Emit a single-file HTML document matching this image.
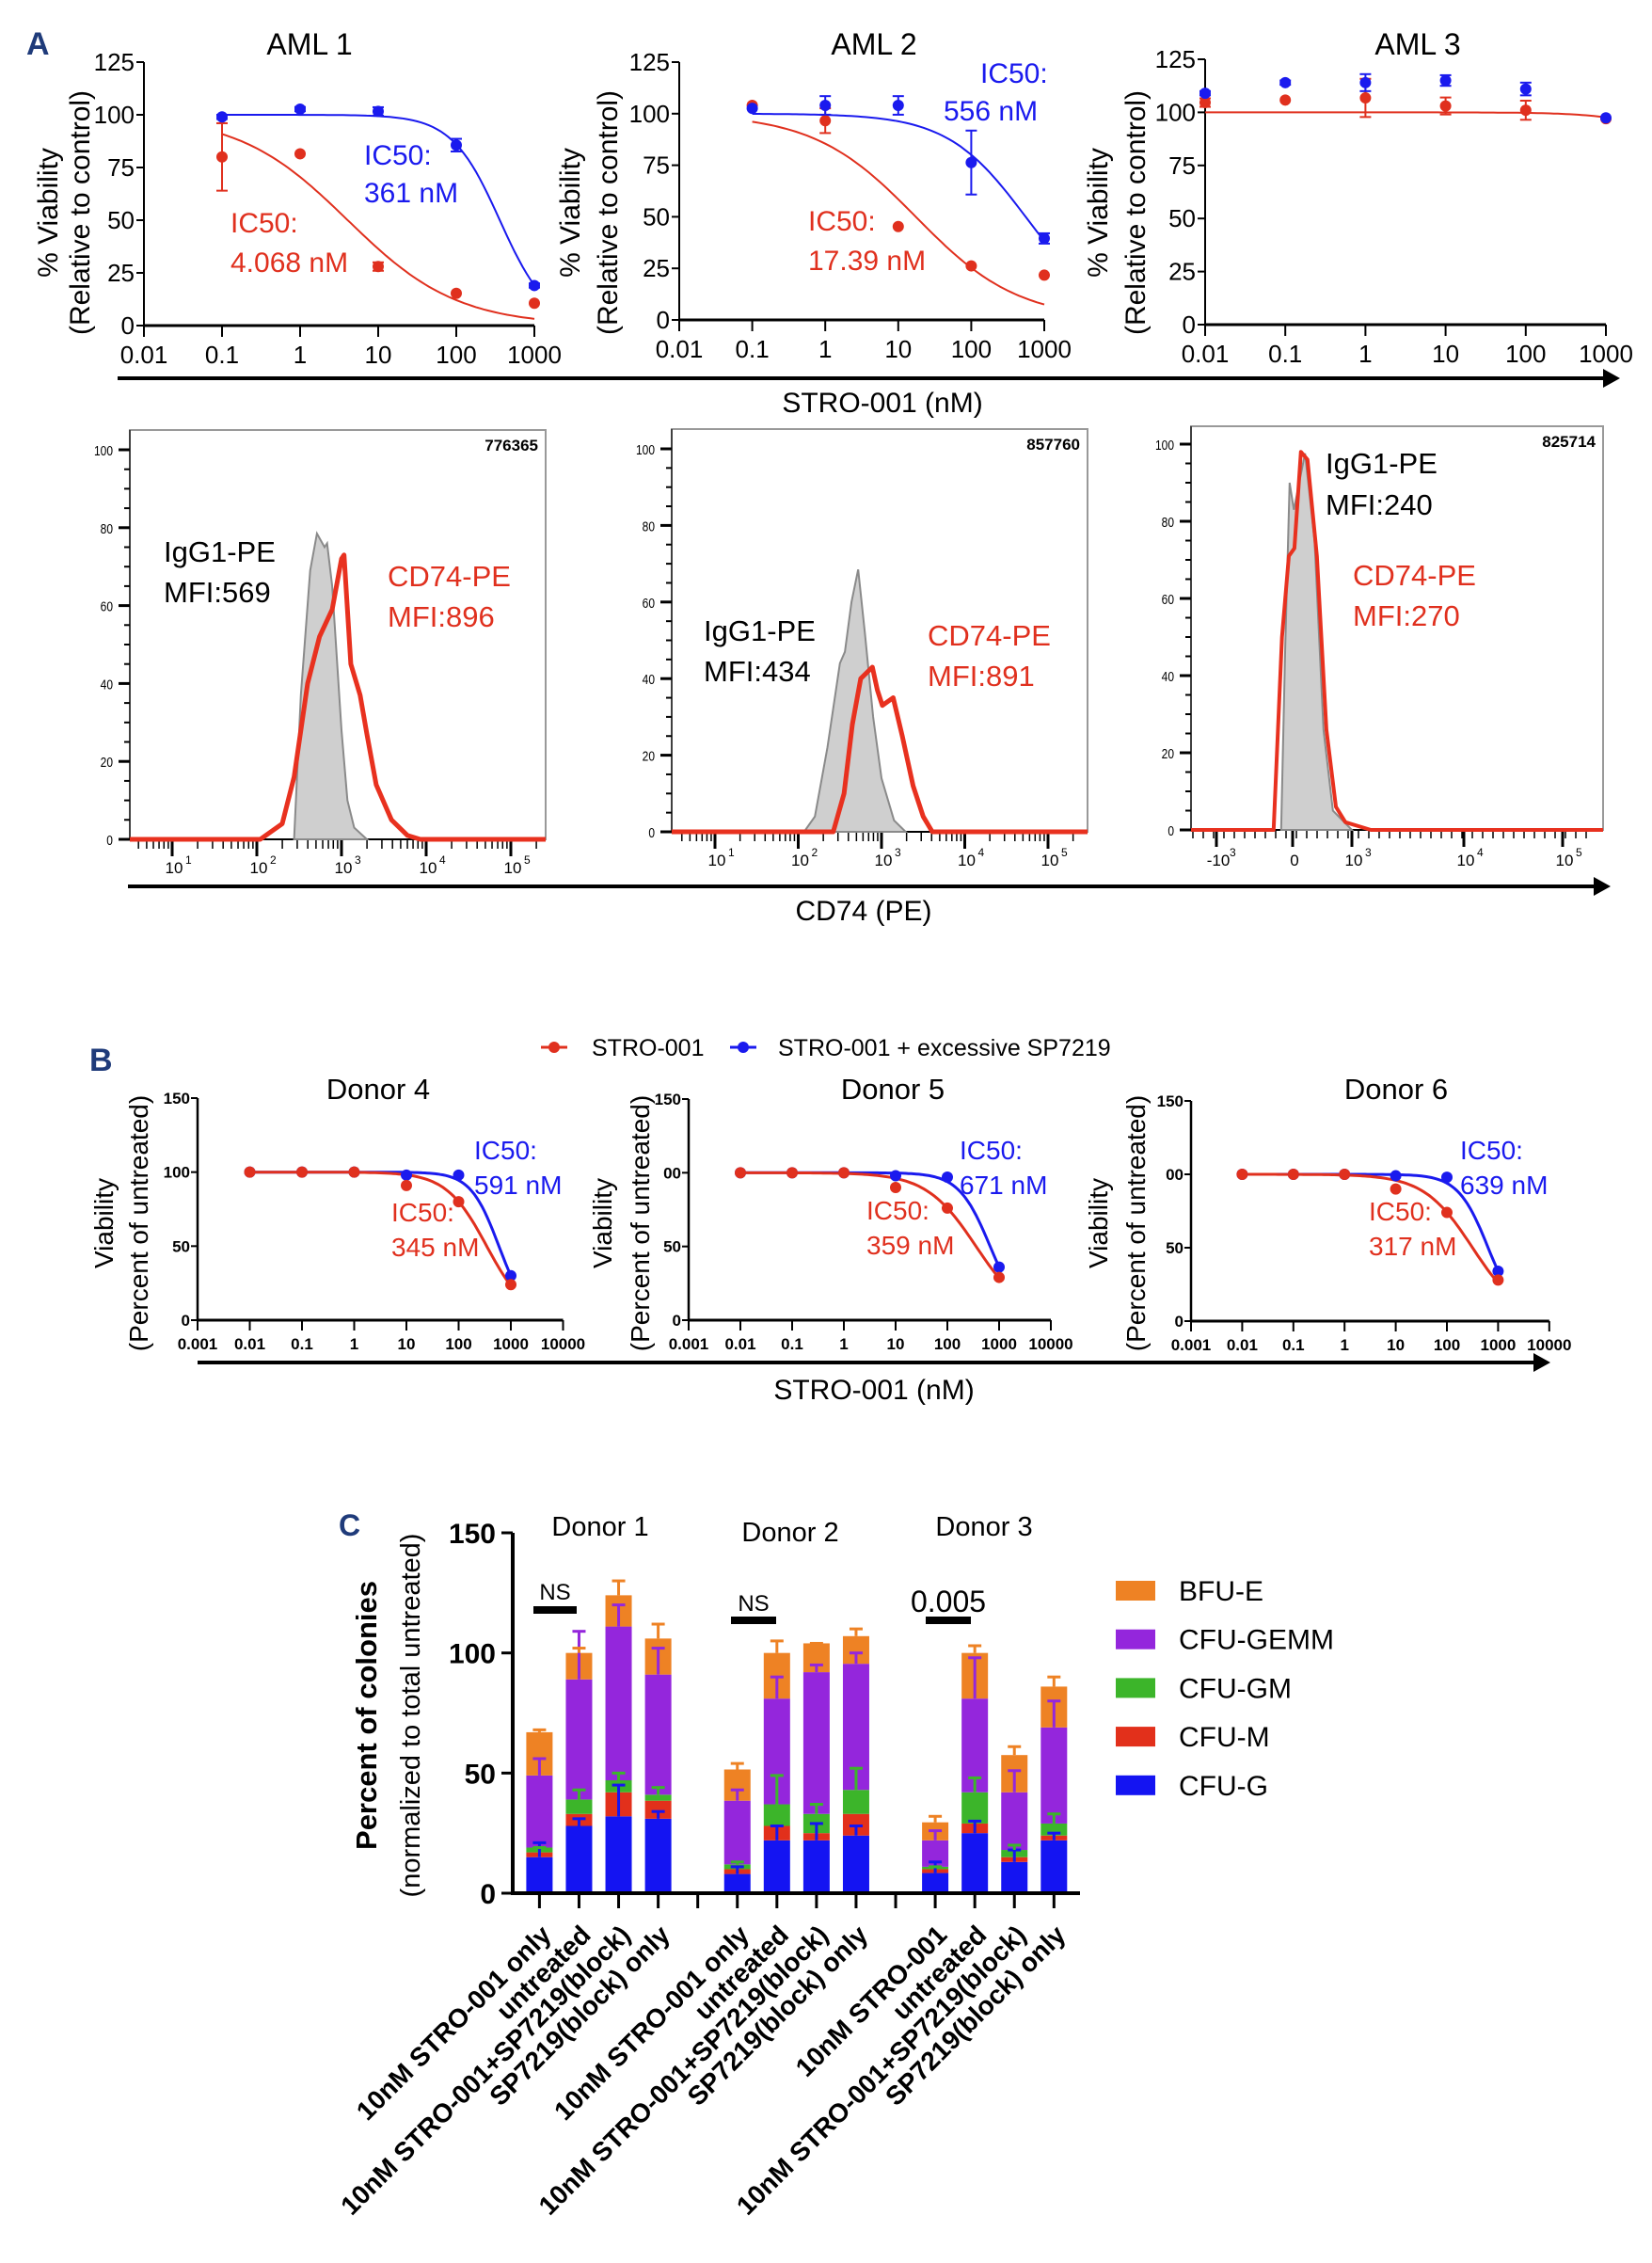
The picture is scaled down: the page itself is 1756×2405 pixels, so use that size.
<!DOCTYPE html>
<html><head><meta charset="utf-8"><title>STRO-001 figure</title>
<style>
html,body{margin:0;padding:0;background:#fff;}
svg{display:block;font-family:"Liberation Sans",sans-serif;}
</style></head>
<body>
<svg id="fig" xmlns="http://www.w3.org/2000/svg" width="1756" height="2405" viewBox="0 0 1756 2405"></svg>
<script>
// ---------- Panel A data ----------
const aml1Conc=[0.1,1,10,100,1000];
const aml1Blue=[99,102.7,101.6,85.6,19];
const aml1BlueErr=[1,1,2,3,1];
const aml1Red=[80,81.5,28,15.3,10.6];
const aml1RedErr=[16,0,2,0,0];
const aml2Conc=[0.1,1,10,100,1000];
const aml2Blue=[102.6,104,104,76.3,39.5];
const aml2BlueErr=[0,4.5,4.5,15.5,2.5];
const aml2Red=[104,96.6,45.3,26.2,21.7];
const aml2RedErr=[0,6,0,0,0];
const aml3Conc=[0.01,0.1,1,10,100,1000];
const aml3Blue=[109,114,114,115,111,97.4];
const aml3BlueErr=[1,1,4,2.5,3,0];
const aml3Red=[104.6,105.8,106.8,103,101,97];
const aml3RedErr=[2,0,9,4,4.5,0];
const amlIC50Red=[4.068,17.39,40000];
const amlHillRed=[0.62,0.62,1];
const amlIC50Blue=[361,556];
const amlHillBlue=[1.41,0.81];
const amlXTicks=["0.01","0.1","1","10","100","1000"];
const amlYTicks=[0,25,50,75,100,125];
// ---------- Histogram data (x in decades / axis index, y in % of max) ----------
const h1Gray=[[2.44,0],[2.52,37],[2.63,69],[2.71,78.5],[2.8,75],[2.83,76],[2.89,65],[3.0,28],[3.07,10],[3.15,3],[3.3,0]];
const h1Red=[[2.04,0],[2.3,4],[2.44,16],[2.6,40],[2.74,52],[2.89,59],[3.0,72],[3.03,73],[3.11,45],[3.22,37],[3.3,27],[3.41,14],[3.59,5],[3.78,1],[3.93,0]];
const h2Gray=[[2.07,0],[2.2,4],[2.35,22],[2.5,44],[2.56,47],[2.64,60],[2.72,68.5],[2.8,52],[2.9,30],[3.0,14],[3.15,3],[3.29,0]];
const h2Red=[[2.42,0],[2.55,10],[2.65,28],[2.75,40],[2.89,43],[2.95,37],[3.01,33],[3.14,35],[3.25,25],[3.38,12],[3.5,4],[3.61,0]];
const h3Gray=[[0.85,0],[0.9,45],[0.96,90],[1.02,83],[1.21,97.6],[1.37,75],[1.52,26],[1.68,5],[2.0,0]];
const h3Red=[[0.75,0],[0.86,50],[0.95,71],[1.03,73],[1.14,98],[1.25,96],[1.41,71],[1.57,26],[1.73,6],[1.89,2],[2.17,0]];
const histYTicks=[0,20,40,60,80,100];
const histCounts=["776365","857760","825714"];
// ---------- Panel B data ----------
const bConc=[0.01,0.1,1,10,100,1000];
const d4Red=[100,100,100,91,80,24];
const d4Blue=[100,100,100,98,98,30];
const d5Red=[100,100,100,90,76,29];
const d5Blue=[100,100,100,98,97,36];
const d6Red=[100,100,100,90,74,28];
const d6Blue=[100,100,100,99,98,34];
const bIC50Red=[345,359,317];
const bHillRed=[1.12,0.9,0.91];
const bIC50Blue=[591,671,639];
const bHillBlue=[1.6,1.44,1.48];
const bXTicks=["0.001","0.01","0.1","1","10","100","1000","10000"];
const bYTicks=[0,50,100,150];
// ---------- Panel C data ----------
const cCategories=["10nM STRO-001 only","untreated","10nM STRO-001+SP7219(block)","SP7219(block) only","10nM STRO-001 only","untreated","10nM STRO-001+SP7219(block)","SP7219(block) only","10nM STRO-001","untreated","10nM STRO-001+SP7219(block)","SP7219(block) only"];
const cfuG=[15,28,32,31,8,22,22,24,8.4,25,13,22];
const cfuM=[2,5,10,7.5,2,6,3,9,1.6,4,2,2];
const cfuGM=[2,6,5,2.5,2,9,8,10,1,13,3,5];
const cfuGEMM=[30,50,64,50,26.5,44,59,52.5,11,39,24,40];
const bfuE=[18,11,13,15,13,19,12,11.5,7.5,19,15.5,17];
const cfuGTop=[21,31,45,34,11,28,29,28,13,30,18,25];
const cfuGMTop=[19,43,50,44,13,49,37,52,11,48,20,33];
const cfuGEMMTop=[56,109,120,102,43,90,95,100,26,98,51,80];
const bfuETop=[68,102,130,112,54,105,104,110,32,103,61,90];
const cYTicks=[0,50,100,150];

// ---------- helpers ----------
const NS='http://www.w3.org/2000/svg';
const svg=document.getElementById('fig');
function mk(tag,attrs,parent){const e=document.createElementNS(NS,tag);for(const k in attrs)e.setAttribute(k,attrs[k]);(parent||svg).appendChild(e);return e;}
function txt(x,y,s,attrs,parent){const e=mk('text',Object.assign({x:x,y:y},attrs||{}),parent);e.textContent=s;return e;}
function hill(c,ic,h){return 100/(1+Math.pow(c/ic,h));}
const RED='#e0301e',BLUE='#1a1aee';

// ---------- Panel letters ----------
let el;
el=txt(28,58,'A',{'font-size':34,'font-weight':'bold',fill:'#1f3b7a'});


el=txt(95,1138,'B',{'font-size':34,'font-weight':'bold',fill:'#1f3b7a'});


el=txt(360,1632,'C',{'font-size':32,'font-weight':'bold',fill:'#1f3b7a'});



// ---------- Panel A ----------
const amlCharts=[
 {title:'AML 1',x0:153,dec:83,y0:346,yTop:66,tx:329,lx:[51,85],conc:aml1Conc,blue:aml1Blue,be:aml1BlueErr,red:aml1Red,re:aml1RedErr,
  blueTxt:[387,175,215],redTxt:[245,247,289]},
 {title:'AML 2',x0:722,dec:77.6,y0:340,yTop:66,tx:929,lx:[606,646],conc:aml2Conc,blue:aml2Blue,be:aml2BlueErr,red:aml2Red,re:aml2RedErr,
  blueTxt:[1042,88,128],redTxt:[859,245,287]},
 {title:'AML 3',x0:1281,dec:85.2,y0:345,yTop:63,tx:1507,lx:[1167,1207],conc:aml3Conc,blue:aml3Blue,be:aml3BlueErr,red:aml3Red,re:aml3RedErr}
];
amlCharts.forEach((c,i)=>{
 const g=mk('g',{});
 
 
 const X=v=>c.x0+(Math.log10(v)+2)*c.dec;
 const Y=v=>c.y0-(v/125)*(c.y0-c.yTop);
 el=txt(c.tx,58,c.title,{'font-size':32,'text-anchor':'middle'},g);
 
 
 mk('line',{x1:c.x0,y1:c.y0,x2:X(1000),y2:c.y0,stroke:'#000','stroke-width':3},g);
 mk('line',{x1:c.x0,y1:c.y0,x2:c.x0,y2:c.yTop,stroke:'#000','stroke-width':2},g);
 amlXTicks.forEach((t,k)=>{const x=X(Math.pow(10,k-2));
  mk('line',{x1:x,y1:c.y0,x2:x,y2:c.y0+12,stroke:'#000','stroke-width':2},g);
  el=txt(x,c.y0+40,t,{'font-size':26,'text-anchor':'middle'},g);
  
  });
 amlYTicks.forEach(t=>{const y=Y(t);
  mk('line',{x1:c.x0-8,y1:y,x2:c.x0,y2:y,stroke:'#000','stroke-width':2},g);
  el=txt(c.x0-10,y+9,String(t),{'font-size':26,'text-anchor':'end'},g);
  
  });
 el=txt(0,0,'% Viability',{'font-size':30,'text-anchor':'middle',transform:`translate(${c.lx[0]+10},226) rotate(-90)`},g);
 
 
 el=txt(0,0,'(Relative to control)',{'font-size':30,'text-anchor':'middle',transform:`translate(${c.lx[1]+10},226) rotate(-90)`},g);
 
 
 let startL=i<2?-1:-2;
 let pts=[];for(let l=startL;l<=3.0001;l+=0.05){const cc=Math.pow(10,l);pts.push(X(cc).toFixed(1)+','+Y(hill(cc,amlIC50Red[i],amlHillRed[i])).toFixed(1));}
 el=mk('polyline',{points:pts.join(' '),fill:'none',stroke:RED,'stroke-width':2},g);
 
 
 if(i<2){pts=[];for(let l=-1;l<=3.0001;l+=0.05){const cc=Math.pow(10,l);pts.push(X(cc).toFixed(1)+','+Y(hill(cc,amlIC50Blue[i],amlHillBlue[i])).toFixed(1));}
  el=mk('polyline',{points:pts.join(' '),fill:'none',stroke:BLUE,'stroke-width':2},g);
  
  }
 [[c.red,c.re,RED,'red'],[c.blue,c.be,BLUE,'blue']].forEach(([vals,errs,col,nm])=>{
  vals.forEach((v,k)=>{const x=X(c.conc[k]);
   if(errs[k]>0){mk('line',{x1:x,y1:Y(v-errs[k]),x2:x,y2:Y(v+errs[k]),stroke:col,'stroke-width':2},g);
    mk('line',{x1:x-6,y1:Y(v-errs[k]),x2:x+6,y2:Y(v-errs[k]),stroke:col,'stroke-width':2},g);
    mk('line',{x1:x-6,y1:Y(v+errs[k]),x2:x+6,y2:Y(v+errs[k]),stroke:col,'stroke-width':2},g);}
   el=mk('circle',{cx:x,cy:Y(v),r:6,fill:col},g);
   
   });});
 if(c.blueTxt){
  el=txt(c.blueTxt[0],c.blueTxt[1],'IC50:',{'font-size':30,fill:BLUE},g);
  
  
  txt(c.blueTxt[0]-(i==1?39:0),c.blueTxt[2],i==0?'361 nM':'556 nM',{'font-size':30,fill:BLUE},g);
  el=txt(c.redTxt[0],c.redTxt[1],'IC50:',{'font-size':30,fill:RED},g);
  
  
  txt(c.redTxt[0],c.redTxt[2],i==0?'4.068 nM':'17.39 nM',{'font-size':30,fill:RED},g);
 }
});
function arrow(x1,x2,y,name){const g=mk('g',{});
 
 
 mk('line',{x1:x1,y1:y,x2:x2-14,y2:y,stroke:'#000','stroke-width':4},g);
 mk('polygon',{points:`${x2},${y} ${x2-18},${y-10} ${x2-18},${y+10}`,fill:'#000'},g);}
arrow(125,1722,402,'panel-a-x-arrow');
el=txt(938,438,'STRO-001 (nM)',{'font-size':30,'text-anchor':'middle'});



// ---------- Histograms ----------
const hists=[
 {l:138,r:580,top:457,base:892,y100:478,gray:h1Gray,red:h1Red,type:'log',x1:183,dec:90,
  txt:[[174,597,'IgG1-PE','#000'],[174,640,'MFI:569','#000'],[412,623,'CD74-PE',RED],[412,666,'MFI:896',RED]]},
 {l:714,r:1156,top:456,base:884,y100:477,gray:h2Gray,red:h2Red,type:'log',x1:760,dec:88.5,
  txt:[[748,681,'IgG1-PE','#000'],[748,724,'MFI:434','#000'],[986,686,'CD74-PE',RED],[986,729,'MFI:891',RED]]},
 {l:1266,r:1704,top:453,base:882,y100:472,gray:h3Gray,red:h3Red,type:'idx',pos:[1293,1374,1437,1556,1661],
  txt:[[1409,503,'IgG1-PE','#000'],[1409,547,'MFI:240','#000'],[1438,622,'CD74-PE',RED],[1438,665,'MFI:270',RED]]}
];
hists.forEach((h,i)=>{
 const g=mk('g',{});
 
 
 const X=h.type==='log'?(d=>h.x1+(d-1)*h.dec):(t=>{const k=Math.max(0,Math.min(3,Math.floor(t)));return h.pos[k]+(t-k)*(h.pos[k+1]-h.pos[k]);});
 const Y=v=>h.base-v/100*(h.base-h.y100);
 mk('rect',{x:h.l,y:h.top,width:h.r-h.l,height:h.base-h.top,fill:'none',stroke:'#999','stroke-width':2},g);
 mk('line',{x1:h.l,y1:h.top,x2:h.l,y2:h.base,stroke:'#222','stroke-width':1.5},g);
 histYTicks.forEach(t=>{const y=Y(t);
  mk('line',{x1:h.l-12,y1:y,x2:h.l,y2:y,stroke:'#000','stroke-width':3},g);
  el=txt(h.l-18,y+6,String(t),{'font-size':15,'text-anchor':'end','transform':`scale(0.8,1)`,'transform-origin':`${h.l-18} ${y}`},g);
  
  });
 for(let t=5;t<100;t+=5){if(t%20)mk('line',{x1:h.l-6,y1:Y(t),x2:h.l,y2:Y(t),stroke:'#000','stroke-width':2},g);}
 mk('line',{x1:h.l,y1:h.base,x2:h.r,y2:h.base,stroke:'#000','stroke-width':2},g);
 if(h.type==='log'){
  for(let d=0;d<=5;d++){for(let k=1;k<=9;k++){const x=X(d+Math.log10(k));if(x<h.l||x>h.r)continue;
   mk('line',{x1:x,y1:h.base,x2:x,y2:h.base+(k==1?18:10),stroke:'#000','stroke-width':k==1?3:1.5},g);}}
  for(let d=1;d<=5;d++){const x=X(d);
   el=txt(x+2,h.base+36,'10',{'font-size':17,'text-anchor':'middle'},g);
   
   
   txt(x+14,h.base+26,String(d),{'font-size':12},g);}
 }else{
  const labs=['-10','0','10','10','10'],sups=['3','','3','4','5'];
  h.pos.forEach((p,k)=>{mk('line',{x1:p,y1:h.base,x2:p,y2:h.base+18,stroke:'#000','stroke-width':3},g);
   el=txt(p+2,h.base+38,labs[k],{'font-size':17,'text-anchor':'middle'},g);
   
   
   if(sups[k])txt(p+14,h.base+28,sups[k],{'font-size':12},g);});
  for(let x=h.pos[0]-25;x<h.r-10;x+=11){mk('line',{x1:x,y1:h.base,x2:x,y2:h.base+9,stroke:'#000','stroke-width':1.5},g);}
 }
 const pg=h.gray.map(p=>X(p[0]).toFixed(1)+','+Y(p[1]).toFixed(1));
 el=mk('polygon',{points:pg.join(' '),fill:'#cfcfcf',stroke:'#8a8a8a','stroke-width':2},g);
 
 
 const pr=[h.l+','+Y(0)].concat(h.red.map(p=>X(p[0]).toFixed(1)+','+Y(p[1]).toFixed(1))).concat([h.r+','+Y(0)]);
 el=mk('polyline',{points:pr.join(' '),fill:'none',stroke:'#e8311f','stroke-width':h.type==='log'?5:4,'stroke-linejoin':'round'},g);
 
 
 el=txt(h.r-8,h.top+22,histCounts[i],{'font-size':17,'font-weight':'bold','text-anchor':'end'},g);
 
 
 h.txt.forEach(t=>{el=txt(t[0],t[1],t[2],{'font-size':31,fill:t[3]},g);
  
  });
});
arrow(136,1712,942,'panel-a-cd74-arrow');
el=txt(918,978,'CD74 (PE)',{'font-size':30,'text-anchor':'middle'});



// ---------- Panel B ----------
const lg=mk('g',{});


[[589,629,'STRO-001',RED],[790,827,'STRO-001 + excessive SP7219',BLUE]].forEach(a=>{
 mk('line',{x1:a[0]-14,y1:1113,x2:a[0]+14,y2:1113,stroke:a[3],'stroke-width':3},lg);
 mk('circle',{cx:a[0],cy:1113,r:6,fill:a[3]},lg);
 el=txt(a[1],1122,a[2],{'font-size':25},lg);
 
 });
const donors=[
 {t:'Donor 4',x0:210,dec:55.5,y0:1403,y150:1167,tx:402,lx:[110,147],red:d4Red,blue:d4Blue,ticks:['0','50','100','150'],
  bt:[504,1232,1269,'591 nM'],rt:[416,1298,1335,'345 nM']},
 {t:'Donor 5',x0:732,dec:55,y0:1403,y150:1168,tx:949,lx:[640,680],red:d5Red,blue:d5Blue,ticks:['0','50','00','150'],
  bt:[1020,1232,1269,'671 nM'],rt:[921,1296,1333,'359 nM']},
 {t:'Donor 6',x0:1266,dec:54.4,y0:1404,y150:1170,tx:1484,lx:[1167,1207],red:d6Red,blue:d6Blue,ticks:['0','50','00','150'],
  bt:[1552,1232,1269,'639 nM'],rt:[1455,1297,1334,'317 nM']}
];
donors.forEach((d,i)=>{
 const g=mk('g',{});
 
 
 const X=v=>d.x0+(Math.log10(v)+3)*d.dec;
 const Y=v=>d.y0-v/150*(d.y0-d.y150);
 el=txt(d.tx,1168,d.t,{'font-size':31,'text-anchor':'middle'},g);
 
 
 mk('line',{x1:d.x0,y1:d.y0,x2:X(10000),y2:d.y0,stroke:'#000','stroke-width':3},g);
 mk('line',{x1:d.x0,y1:d.y0,x2:d.x0,y2:d.y150,stroke:'#000','stroke-width':2.5},g);
 bXTicks.forEach((t,k)=>{const x=X(Math.pow(10,k-3));
  mk('line',{x1:x,y1:d.y0,x2:x,y2:d.y0+11,stroke:'#000','stroke-width':2},g);
  el=txt(x,d.y0+31,t,{'font-size':17,'font-weight':'bold','text-anchor':'middle'},g);
  
  });
 bYTicks.forEach((t,k)=>{const y=Y(t);
  mk('line',{x1:d.x0-7,y1:y,x2:d.x0,y2:y,stroke:'#000','stroke-width':2},g);
  el=txt(d.x0-8,y+6,d.ticks[k],{'font-size':17,'font-weight':'bold','text-anchor':'end'},g);
  
  });
 el=txt(0,0,'Viability',{'font-size':28,'text-anchor':'middle',transform:`translate(${d.lx[0]+10},1300) rotate(-90)`},g);
 
 
 el=txt(0,0,'(Percent of untreated)',{'font-size':28,'text-anchor':'middle',transform:`translate(${d.lx[1]+10},1300) rotate(-90)`},g);
 
 
 [[bIC50Blue[i],bHillBlue[i],BLUE,'blue'],[bIC50Red[i],bHillRed[i],RED,'red']].forEach(a=>{
  const pts=[];for(let l=-2;l<=3.0001;l+=0.05){const cc=Math.pow(10,l);pts.push(X(cc).toFixed(1)+','+Y(hill(cc,a[0],a[1])).toFixed(1));}
  el=mk('polyline',{points:pts.join(' '),fill:'none',stroke:a[2],'stroke-width':3},g);
  
  });
 [[d.blue,BLUE,'blue'],[d.red,RED,'red']].forEach(a=>{a[0].forEach((v,k)=>{
  el=mk('circle',{cx:X(bConc[k]),cy:Y(v),r:6,fill:a[1]},g);
  
  });});
 el=txt(d.bt[0],d.bt[1],'IC50:',{'font-size':28,fill:BLUE},g);
 
 
 txt(d.bt[0],d.bt[2],d.bt[3],{'font-size':28,fill:BLUE},g);
 el=txt(d.rt[0],d.rt[1],'IC50:',{'font-size':28,fill:RED},g);
 
 
 txt(d.rt[0],d.rt[2],d.rt[3],{'font-size':28,fill:RED},g);
});
arrow(210,1648,1448,'panel-b-x-arrow');
el=txt(929,1487,'STRO-001 (nM)',{'font-size':30,'text-anchor':'middle'});



// ---------- Panel C ----------
const cg=mk('g',{});


const cX0=545,cY0=2012,cY150=1629;
const cY=v=>cY0-v/150*(cY0-cY150);
const slotX=k=>573.4+42.07*k;
const barSlot=i=>i+Math.floor(i/4);
const segs=[[cfuG,cfuGTop,'#1414f2','cfu-g'],[cfuM,null,'#e2301b','cfu-m'],[cfuGM,cfuGMTop,'#3cb52a','cfu-gm'],[cfuGEMM,cfuGEMMTop,'#9426dc','cfu-gemm'],[bfuE,bfuETop,'#ee8224','bfu-e']];
cCategories.forEach((cat,i)=>{
 const cx=slotX(barSlot(i));let base=0;
 segs.forEach(s=>{const v=s[0][i];
  el=mk('rect',{x:cx-14,y:cY(base+v),width:28,height:cY(base)-cY(base+v),fill:s[2]},cg);
  
  
  base+=v;});
 let b2=0;
 segs.forEach(s=>{const top=b2+s[0][i];b2=top;if(!s[1])return;const e=s[1][i];
  mk('line',{x1:cx,y1:cY(top),x2:cx,y2:cY(e),stroke:s[2],'stroke-width':3},cg);
  mk('line',{x1:cx-7,y1:cY(e),x2:cx+7,y2:cY(e),stroke:s[2],'stroke-width':3},cg);});
 el=txt(0,0,cat,{'font-size':28,'font-weight':'bold','text-anchor':'end',transform:`translate(${cx+14},2058) rotate(-45)`},cg);
 
 
});
mk('line',{x1:cX0,y1:cY0,x2:1148,y2:cY0,stroke:'#000','stroke-width':4},cg);
mk('line',{x1:cX0,y1:cY0+2,x2:cX0,y2:cY150,stroke:'#000','stroke-width':4},cg);
for(let k=0;k<14;k++){const x=slotX(k);mk('line',{x1:x,y1:cY0,x2:x,y2:cY0+16,stroke:'#000','stroke-width':3},cg);}
cYTicks.forEach(t=>{const y=cY(t);
 mk('line',{x1:cX0-12,y1:y,x2:cX0,y2:y,stroke:'#000','stroke-width':3},cg);
 el=txt(cX0-18,y+11,String(t),{'font-size':30,'font-weight':'bold','text-anchor':'end'},cg);
 
 });
el=txt(0,0,'Percent of colonies',{'font-size':31,'font-weight':'bold','text-anchor':'middle',transform:`translate(400,1823) rotate(-90)`},cg);


el=txt(0,0,'(normalized to total untreated)',{'font-size':29,'text-anchor':'middle',transform:`translate(446,1823) rotate(-90)`},cg);


[['Donor 1',638,1632],['Donor 2',840,1638],['Donor 3',1046,1632]].forEach(a=>{
 el=txt(a[1],a[2],a[0],{'font-size':29,'text-anchor':'middle'},cg);
 
 });
[['NS',590,1700,567,613,1711,24],['NS',801,1712,777,825,1722,24],['0.005',1008,1713,984,1032,1722,32]].forEach(a=>{
 el=txt(a[1],a[2],a[0],{'font-size':a[6],'text-anchor':'middle'},cg);
 
 
 mk('line',{x1:a[3],y1:a[5],x2:a[4],y2:a[5],stroke:'#000','stroke-width':8},cg);});
const legC=mk('g',{});


[['BFU-E','#ee8224'],['CFU-GEMM','#9426dc'],['CFU-GM','#3cb52a'],['CFU-M','#e2301b'],['CFU-G','#1414f2']].forEach((a,k)=>{
 const y=1680+k*51.7;
 mk('rect',{x:1186,y:y,width:42,height:21,fill:a[1]},legC);
 el=txt(1253,y+21,a[0],{'font-size':30},legC);
 
 });
</script>
</body></html>
